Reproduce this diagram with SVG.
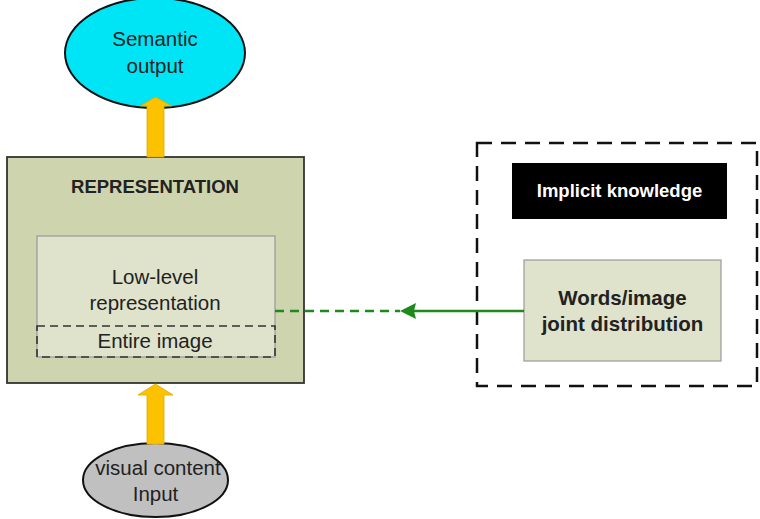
<svg xmlns="http://www.w3.org/2000/svg" width="760" height="519" viewBox="0 0 760 519">
  <style>
    text { font-family: "Liberation Sans", Arial, sans-serif; fill: #222; text-anchor: middle; }
    .lbl { font-size: 20.5px; }
    .bold { font-weight: bold; }
    .pale { fill: #dfe3cc; stroke: #9a9a9a; stroke-width: 1.2; }
    .flow { fill: #fcc200; stroke: #e0a800; stroke-width: 0.8; }
  </style>
  <rect width="760" height="519" fill="#ffffff"/>

  <!-- semantic output -->
  <g id="semantic-output">
    <ellipse cx="155" cy="53" rx="90" ry="55" fill="#00e5f5" stroke="#111" stroke-width="2"/>
    <text class="lbl" x="155" y="46">Semantic</text>
    <text class="lbl" x="155" y="73">output</text>
  </g>

  <!-- representation block -->
  <g id="representation">
    <rect x="7" y="157" width="297" height="226" fill="#cdd4ae" stroke="#333" stroke-width="1.8"/>
    <text class="bold" x="155" y="193" font-size="18.5">REPRESENTATION</text>
    <rect class="pale" x="37" y="236" width="238" height="121"/>
    <text class="lbl" x="155" y="284">Low-level</text>
    <text class="lbl" x="155" y="310">representation</text>
  </g>

  <g id="entire-image">
    <rect x="37" y="326" width="238" height="31" fill="none" stroke="#333" stroke-width="1.6" stroke-dasharray="8,5"/>
    <text class="lbl" x="155" y="348">Entire image</text>
  </g>

  <!-- implicit knowledge frame -->
  <g id="implicit-knowledge">
    <rect x="477" y="143" width="280" height="243" fill="none" stroke="#111" stroke-width="2.5" stroke-dasharray="15,9"/>
    <rect x="512" y="163" width="215" height="56" fill="#000"/>
    <text class="bold" x="619.5" y="197" font-size="18.5" style="fill:#fff">Implicit knowledge</text>
  </g>

  <g id="joint-distribution">
    <rect class="pale" x="524" y="260" width="197" height="101"/>
    <text class="bold" x="622.5" y="305" font-size="20.5">Words/image</text>
    <text class="bold" x="622.5" y="331" font-size="20.5">joint distribution</text>
  </g>

  <!-- visual input -->
  <g id="visual-input">
    <ellipse cx="155.5" cy="480" rx="72.5" ry="37" fill="#c0c0c0" stroke="#111" stroke-width="2"/>
    <text class="lbl" x="158" y="475" font-size="21">visual content</text>
    <text class="lbl" x="155.5" y="501">Input</text>
  </g>

  <!-- connectors, drawn over the nodes -->
  <g id="connectors">
    <path class="flow" d="M147,157 V106 H140 L155.5,97 L172,106 H164 V157 Z"/>
    <path class="flow" d="M147,444 V395 H138 L155.5,384 L173,395 H164 V444 Z"/>
    <line x1="275" y1="311" x2="400" y2="311" stroke="#1e8a1e" stroke-width="2.5" stroke-dasharray="9,6"/>
    <line x1="412" y1="311" x2="524" y2="311" stroke="#1e8a1e" stroke-width="2.5"/>
    <path d="M400,311 L416,303 L414,311 L416,319 Z" fill="#1e8a1e"/>
  </g>
</svg>
